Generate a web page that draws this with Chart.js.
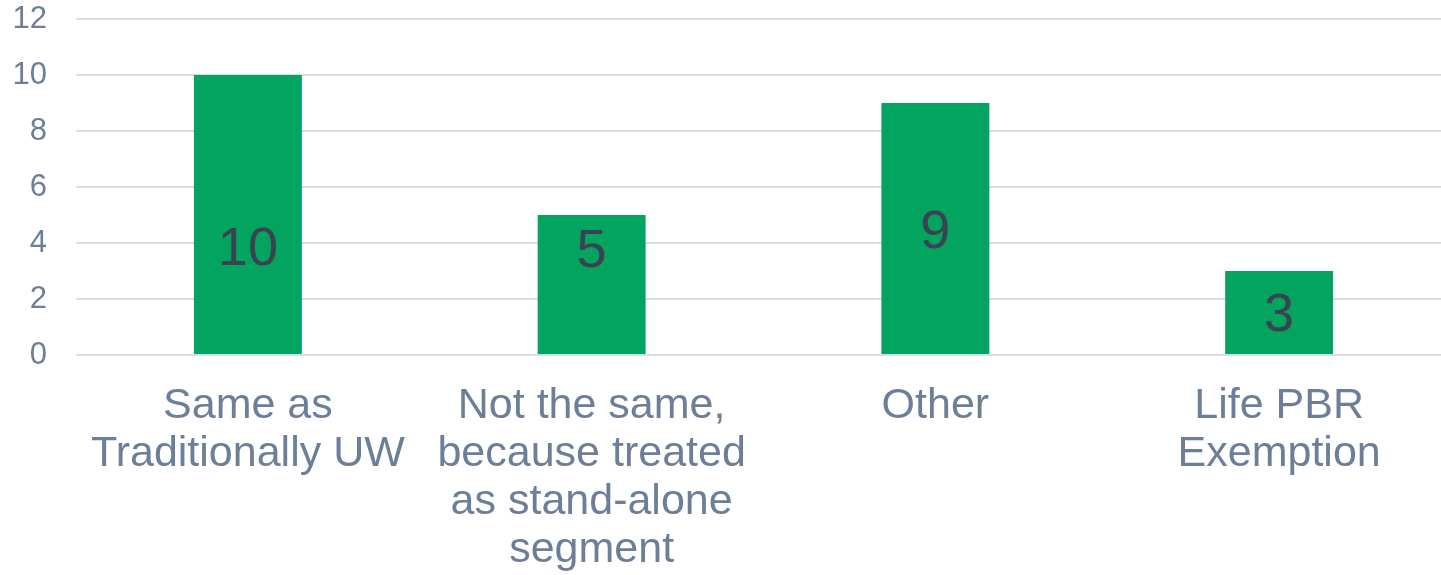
<!DOCTYPE html>
<html>
<head>
<meta charset="utf-8">
<script src="https://cdn.jsdelivr.net/npm/chart.js@4/dist/chart.umd.min.js"></script>
<style>
  html, body { margin: 0; padding: 0; background: #fff; overflow: hidden; }
  #view { width: 1441px; height: 575px; overflow: hidden; }
  #wrap { width: 1451px; height: 575px; }
</style>
</head>
<body>
<div id="view"><div id="wrap"><canvas id="uwChart"></canvas></div></div>
<script>
// categories (one entry per bar, split into lines)
var categories = [
    ["Same as", "Traditionally UW"],
    ["Not the same,", "because treated", "as stand-alone", "segment"],
    "Other",
    ["Life PBR", "Exemption"]
];
var counts = [10, 5, 9, 3];
var yTicks = [0, 2, 4, 6, 8, 10, 12];
// where each count label sits, in axis units
var labelAt = [3.73, 3.66, 4.36, 1.39];

var axisColor = '#6D7F98';
var fontFamily = '"Liberation Sans", Arial, sans-serif';

// draws the count inside each bar
var barLabels = {
    id: 'barLabels',
    afterDatasetsDraw: function(chart) {
        var ctx = chart.ctx;
        var meta = chart.getDatasetMeta(0);
        var y = chart.scales.y;
        ctx.save();
        ctx.font = '54px ' + fontFamily;
        ctx.fillStyle = '#3B4351';
        ctx.textAlign = 'center';
        ctx.textBaseline = 'middle';
        meta.data.forEach(function(bar, i) {
            ctx.fillText(String(counts[i]), bar.x, y.getPixelForValue(labelAt[i]));
        });
        ctx.restore();
    }
};

new Chart(document.getElementById('uwChart'), {
    type: 'bar',
    data: {
        labels: categories,
        datasets: [{
            data: counts,
            backgroundColor: '#02A45F',
            borderWidth: 0,
            categoryPercentage: 1,
            barPercentage: 0.314
        }]
    },
    options: {
        responsive: true,
        maintainAspectRatio: false,
        animation: false,
        layout: { padding: { top: 19, right: 0, left: 0, bottom: 0 } },
        plugins: {
            legend: { display: false },
            tooltip: { enabled: false }
        },
        scales: {
            x: {
                afterFit: function(scale) { scale.height = 220; },
                grid: { display: false, drawTicks: false },
                border: { display: false },
                ticks: {
                    color: axisColor,
                    font: { family: fontFamily, size: 43, lineHeight: 1.12 },
                    padding: 27,
                    maxRotation: 0,
                    autoSkip: false
                }
            },
            y: {
                min: 0,
                max: 12,
                afterBuildTicks: function(scale) {
                    scale.ticks = yTicks.map(function(v) { return { value: v }; });
                },
                afterFit: function(scale) {
                    scale.width = 76;
                    scale.paddingTop = 0;
                    scale.paddingBottom = 0;
                },
                grid: { color: '#D9DCE1', lineWidth: 2, drawTicks: false },
                border: { display: false },
                ticks: {
                    color: axisColor,
                    font: { family: fontFamily, size: 31 },
                    padding: 29
                }
            }
        }
    },
    plugins: [barLabels]
});
</script>
</body>
</html>
